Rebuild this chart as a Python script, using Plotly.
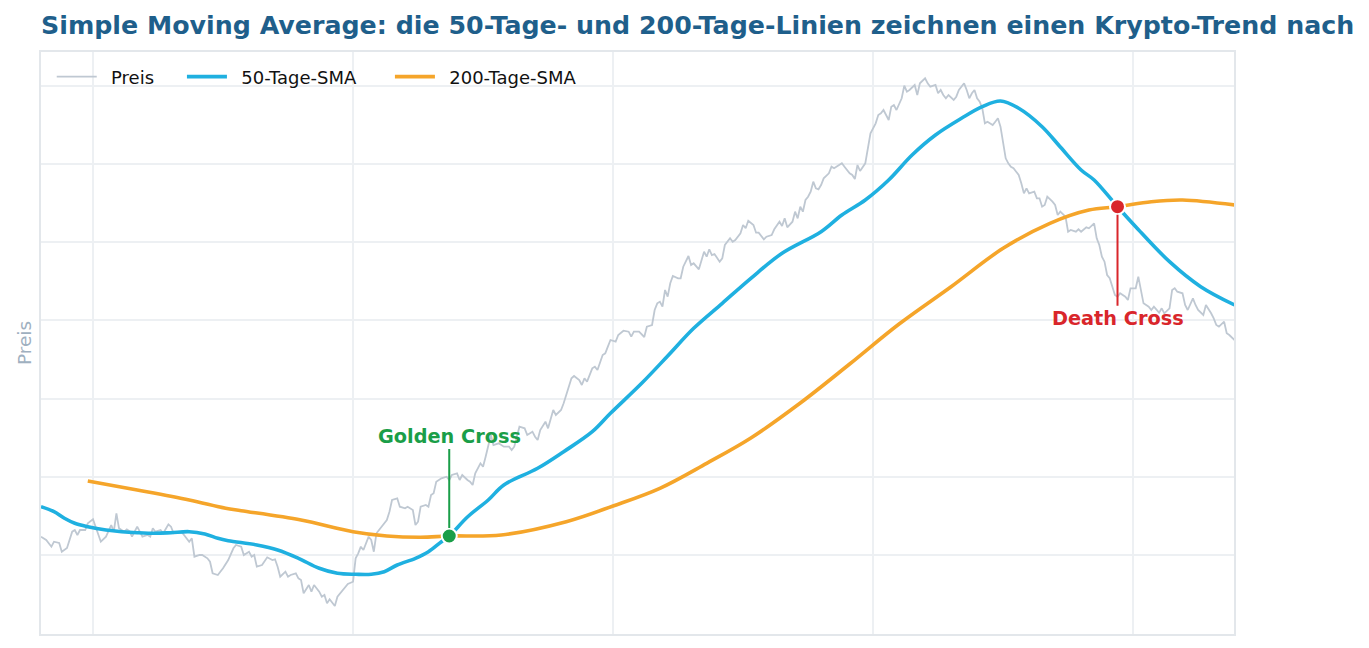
import plotly.graph_objects as go

# ---- data ----
price_days = [0, 2, 4, 5, 7, 8, 10, 12, 13, 14, 15, 17, 18, 20, 21, 23, 25, 26, 27, 28, 29, 30, 32, 33, 34, 35, 37, 38, 39, 41, 42, 43, 44, 46, 47, 49, 50, 51, 53, 54, 55, 57, 58, 59, 61, 62, 64, 65, 66, 68, 70, 72, 74, 75, 77, 78, 80, 81, 82, 83, 85, 86, 87, 89, 90, 91, 92, 94, 95, 96, 98, 99, 100, 101, 103, 104, 105, 107, 108, 109, 110, 111, 113, 114, 115, 117, 118, 120, 121, 122, 123, 124, 126, 127, 128, 129, 131, 133, 134, 135, 137, 138, 140, 141, 143, 144, 145, 146, 148, 149, 150, 151, 152, 154, 156, 157, 158, 160, 161, 162, 164, 165, 166, 167, 169, 170, 171, 173, 174, 176, 178, 180, 181, 182, 184, 186, 187, 189, 190, 191, 192, 194, 195, 197, 198, 200, 201, 202, 204, 205, 207, 208, 209, 210, 212, 213, 214, 216, 217, 218, 219, 221, 222, 224, 226, 227, 228, 230, 232, 233, 235, 236, 237, 238, 239, 240, 241, 242, 243, 245, 246, 247, 249, 250, 251, 253, 254, 255, 256, 257, 258, 259, 261, 262, 263, 265, 266, 267, 269, 270, 271, 272, 274, 275, 276, 278, 279, 281, 282, 284, 285, 286, 287, 289, 290, 291, 292, 293, 294, 295, 296, 297, 298, 299, 300, 301, 303, 304, 305, 307, 308, 309, 311, 312, 313, 314, 315, 317, 318, 319, 321, 322, 323, 324, 326, 327, 328, 329, 331, 332, 333, 334, 336, 337, 338, 339, 340, 341, 342, 344, 345, 346, 347, 348, 349, 351, 352, 353, 355, 356, 357, 358, 359, 360, 361, 362, 363, 364, 366, 367, 368, 369, 370, 371, 372, 373, 374, 376, 377, 378, 379, 380, 382, 383, 384, 385, 386, 387, 389, 390, 391, 392, 394, 395, 396, 398, 399, 400, 402, 403, 405, 406, 407, 408, 409, 410, 411, 412, 413, 414, 415, 417, 418, 419, 421, 422, 423, 424, 426, 427, 428, 430, 431, 432, 434, 435, 436, 437, 439, 440, 441, 443, 444, 445, 447, 448, 450, 451, 452, 453, 455, 456, 457, 459]
price_values = [16330, 16000, 15330, 15830, 15700, 14830, 15200, 16830, 17000, 16500, 17000, 17000, 17670, 18070, 17330, 15830, 16330, 17000, 17500, 16830, 18670, 17170, 16830, 17070, 16900, 16330, 17330, 16830, 16330, 16500, 16330, 17170, 16830, 17000, 16670, 17570, 17330, 16670, 16730, 16830, 16500, 15830, 16170, 14330, 14500, 14500, 14170, 13830, 12670, 12500, 13170, 14000, 15170, 15500, 15330, 14500, 14830, 14330, 14500, 13330, 13500, 13830, 14270, 14000, 14070, 13330, 12330, 12830, 12330, 12500, 12670, 12170, 12000, 10670, 11500, 10830, 11500, 10830, 10330, 10500, 9670, 10070, 9400, 10330, 10670, 11330, 11600, 11830, 14170, 14670, 15330, 15000, 16330, 16000, 14830, 16670, 17330, 18000, 18830, 20000, 20170, 19330, 19170, 19330, 19000, 17500, 17830, 19330, 19500, 19330, 20500, 20670, 21830, 22170, 22330, 22000, 22500, 22670, 22000, 22500, 22000, 21830, 21500, 22670, 23670, 23330, 24330, 26500, 25500, 25670, 25330, 25330, 25000, 25330, 27330, 27170, 26500, 26830, 26330, 26000, 27000, 27830, 27170, 29000, 28500, 29000, 29670, 30500, 32170, 32400, 32000, 31500, 32170, 31830, 33170, 33330, 33000, 34500, 34670, 35330, 36000, 35830, 36500, 36930, 36830, 36330, 36830, 36830, 36300, 37330, 37500, 39000, 39670, 39830, 39330, 41000, 40330, 41670, 42400, 42170, 42170, 43330, 44400, 43500, 43670, 43070, 44000, 44830, 44330, 45070, 44500, 44600, 43830, 44170, 45500, 46170, 45830, 46000, 46670, 47500, 47170, 47930, 47500, 46730, 46730, 46070, 46330, 46500, 47070, 47830, 47400, 48170, 47270, 47830, 48830, 48170, 49330, 48830, 50000, 50330, 50830, 51830, 51170, 51070, 51500, 52170, 52670, 53330, 53170, 53500, 53670, 53330, 52670, 52500, 52100, 53500, 52900, 53670, 55330, 56670, 57670, 58500, 58670, 59000, 58000, 59330, 59500, 59000, 60170, 61430, 60830, 61000, 61500, 60500, 61670, 61900, 62170, 61670, 61330, 61500, 60670, 61000, 60500, 60170, 60500, 60000, 60330, 61000, 61670, 61000, 60170, 60670, 61000, 60170, 59830, 59170, 57670, 57830, 57500, 57830, 58170, 57330, 55670, 54170, 53670, 53330, 53170, 52500, 51670, 50670, 51170, 50670, 50830, 50170, 50170, 49330, 49500, 50330, 49830, 49500, 48500, 48830, 48330, 46830, 47000, 46830, 47070, 46830, 47270, 47170, 47670, 46170, 45500, 44330, 43830, 42500, 42170, 41330, 40500, 40330, 40670, 40330, 40000, 41170, 41170, 42330, 41000, 39670, 39330, 39000, 39330, 38730, 39170, 38670, 39170, 41000, 41170, 40830, 40670, 39500, 39000, 40170, 39500, 39000, 38500, 39500, 38670, 38170, 37500, 37330, 37830, 36670, 36500, 36000]

sma50_days = [0, 5, 9, 13, 18, 25, 31, 37, 44, 50, 57, 63, 68, 72, 83, 91, 99, 107, 114, 121, 127, 132, 137, 144, 149, 154, 157, 164, 172, 178, 191, 201, 212, 219, 231, 241, 251, 262, 273, 285, 300, 308, 317, 326, 335, 344, 354, 362, 369, 376, 385, 392, 400, 405, 414, 421, 434, 446, 459]
sma50_values = [19330, 18830, 18170, 17670, 17330, 17000, 16830, 16730, 16670, 16730, 16830, 16600, 16170, 15930, 15500, 15000, 14170, 13170, 12670, 12570, 12570, 12830, 13500, 14170, 14830, 15830, 16400, 18300, 20000, 21500, 23170, 24830, 26830, 28670, 31670, 34400, 37170, 39670, 42170, 44670, 46830, 48500, 50000, 52000, 54500, 56500, 58170, 59330, 59900, 59170, 57330, 55300, 53000, 52000, 49330, 47330, 43830, 41330, 39500]

sma200_days = [18, 37, 57, 71, 77, 100, 120, 133, 146, 157, 177, 202, 220, 238, 256, 273, 292, 311, 330, 350, 370, 388, 403, 414, 427, 439, 459]
sma200_values = [21900, 21000, 20000, 19170, 18930, 18000, 16830, 16400, 16270, 16400, 16500, 17830, 19400, 21170, 23670, 26200, 29700, 33600, 37600, 41330, 45170, 47670, 49000, 49330, 49830, 50000, 49500]

golden_cross = (157, 16400)
death_cross = (414, 49330)

title_text = "Simple Moving Average: die 50-Tage- und 200-Tage-Linien zeichnen einen Krypto-Trend nach"

GREY = "#bfc8d2"
BLUE = "#1fb0e0"
ORANGE = "#f5a52a"
GREEN = "#1a9e48"
RED = "#d9262b"
GRID = "#edf0f3"
SP = "&nbsp;"
LEAD = "&nbsp;&#8201;"

fig = go.Figure()
fig.add_trace(go.Scatter(x=price_days, y=price_values, mode="lines", name=LEAD + "Preis" + SP * 4,
                         line=dict(color=GREY, width=1.8)))
fig.add_trace(go.Scatter(x=sma50_days, y=sma50_values, mode="lines", name=LEAD + "50-Tage-SMA" + SP * 5,
                         line=dict(color=BLUE, width=3.6, shape="spline", smoothing=1.0)))
fig.add_trace(go.Scatter(x=sma200_days, y=sma200_values, mode="lines", name=LEAD + "200-Tage-SMA",
                         line=dict(color=ORANGE, width=3.6, shape="spline", smoothing=1.0)))
fig.add_trace(go.Scatter(x=[golden_cross[0]], y=[golden_cross[1]], mode="markers", showlegend=False,
                         marker=dict(color=GREEN, size=15, line=dict(color="white", width=2))))
fig.add_trace(go.Scatter(x=[death_cross[0]], y=[death_cross[1]], mode="markers", showlegend=False,
                         marker=dict(color=RED, size=15, line=dict(color="white", width=2))))

fig.add_annotation(x=golden_cross[0], y=golden_cross[1], text="<b>Golden Cross</b>",
                   showarrow=True, arrowhead=0, arrowwidth=2, arrowcolor=GREEN,
                   ax=0, ay=-100, standoff=8,
                   font=dict(family="DejaVu Sans", size=19.3, color=GREEN))
fig.add_annotation(x=death_cross[0], y=death_cross[1], text="<b>Death Cross</b>",
                   showarrow=True, arrowhead=0, arrowwidth=2, arrowcolor=RED,
                   ax=0, ay=112, standoff=8,
                   font=dict(family="DejaVu Sans", size=19.3, color=RED))

fig.update_layout(
    width=1369, height=648,
    margin=dict(l=41, r=135, t=52, b=14),
    paper_bgcolor="white", plot_bgcolor="white",
    font=dict(family="DejaVu Sans", color="#222222"),
    title=dict(text="<b>" + title_text + "</b>", x=0, xref="paper", xanchor="left",
               y=0.961, yref="container", yanchor="middle",
               font=dict(family="DejaVu Sans", size=25.3, color="#1f5f8b")),
    legend=dict(orientation="h", x=0.009, y=0.989, xanchor="left", yanchor="top",
                bgcolor="rgba(0,0,0,0)", font=dict(size=18, color="#111111"),
                itemwidth=40, traceorder="normal"),
    showlegend=True,
)
fig.update_xaxes(range=[0, 458.8], showticklabels=False, ticks="", tick0=20, dtick=100,
                 showgrid=True, gridcolor=GRID, gridwidth=2, zeroline=False,
                 showline=True, linecolor="#e3e7eb", linewidth=2, mirror=True)
fig.update_yaxes(range=[6600, 64800], showticklabels=False, ticks="", tick0=14500, dtick=7817,
                 showgrid=True, gridcolor=GRID, gridwidth=2, zeroline=False,
                 showline=True, linecolor="#e3e7eb", linewidth=2, mirror=True,
                 title=dict(text="Preis", standoff=3, font=dict(size=18.5, color="#9fb0c0")))

fig.write_html("out.html")
